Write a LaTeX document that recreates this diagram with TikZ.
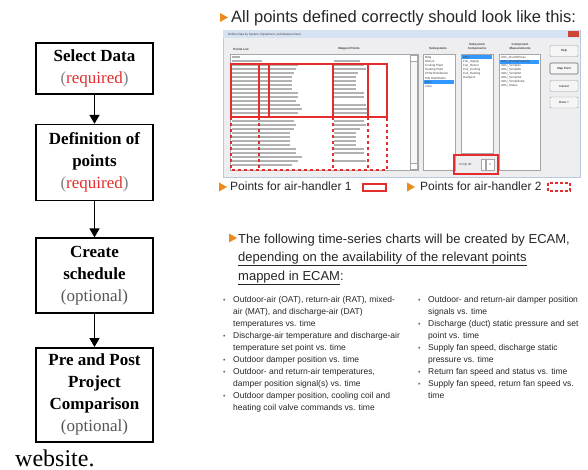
\documentclass[tikz,border=0pt]{standalone}
\usepackage{fontspec}
\setmainfont{Liberation Serif}
\newfontfamily\slidefont{Liberation Sans}
\usepackage{xcolor}
\usetikzlibrary{arrows.meta,positioning}

\definecolor{hiRed}{RGB}{228,45,45}
\definecolor{bulletOrange}{RGB}{232,140,30}
\definecolor{winGrey}{RGB}{238,238,240}
\definecolor{winFrame}{RGB}{185,200,222}
\definecolor{titleBlue}{RGB}{214,226,242}
\definecolor{closeRed}{RGB}{205,70,55}
\definecolor{selBlue}{RGB}{51,153,255}
\definecolor{parenGrey}{RGB}{130,130,130}
\definecolor{optGrey}{RGB}{85,85,85}

\newcommand\reqd{{\mdseries\textcolor{parenGrey}{(}\textcolor{hiRed}{required}\textcolor{parenGrey}{)}}}
\newcommand\optl{{\mdseries\textcolor{optGrey}{(optional)}}}
\newcommand\blt{\makebox[10pt][l]{\textcolor{black!60}{\scriptsize\textbullet}}}

\begin{document}
\begin{tikzpicture}[x=1pt,y=-1pt,
  box/.style={draw,line width=1.6pt,align=center,minimum width=117pt,inner sep=2pt,
    font=\fontsize{17}{22}\selectfont\bfseries},
  arr/.style={-{Triangle[length=9pt,width=10pt]},line width=1.6pt},
  tiny/.style={font=\slidefont\fontsize{3}{3.5}\selectfont,inner sep=0pt,text=black!75},
  hdr/.style={tiny,font=\slidefont\bfseries\fontsize{3}{3.5}\selectfont,align=center},
  lbox/.style={draw=black!35,fill=white,line width=0.4pt},
  btn/.style={draw=black!40,fill=black!4,rounded corners=1pt,minimum width=28pt,
    minimum height=11pt,inner sep=0pt,font=\slidefont\fontsize{3}{3.5}\selectfont},
  row/.style={black!30,line width=1.1pt},
  hand/.style={hiRed,line width=1.2pt},
  slide/.style={anchor=base west,inner sep=0pt,text=black!85},
  tribul/.pic={\fill[bulletOrange] (0,-4.5) -- (8,0) -- (0,4.5) -- cycle;}]
\useasboundingbox (0,0) rectangle (588,470);

% ECAM steps
\node[box,minimum height=51pt] (sel) at (94.5,68.5) {Select Data\\\reqd};
\node[box,minimum height=76pt,below=29pt of sel] (def) {Definition of\\points\\\reqd};
\node[box,minimum height=75pt,below=36pt of def] (sched) {Create\\schedule\\\optl};
\node[box,minimum height=94pt,below=33pt of sched] (cmp) {Pre and Post\\Project\\Comparison\\\optl};
\draw[arr] (sel)--(def);
\draw[arr] (def)--(sched);
\draw[arr] (sched)--(cmp);
\node[anchor=base west,inner sep=0pt,font=\fontsize{24}{28}\selectfont] (web) at (15,466) {website.};

% slide heading
\pic at (220,17.5) {tribul};
\node[slide,font=\slidefont\fontsize{16.5}{20}\selectfont] (head) at (231,23)
  {All points defined correctly should look like this:};

% dialog window
\draw[winFrame,fill=winGrey,line width=0.8pt] (223,30) rectangle (580,177);
\fill[titleBlue] (223.4,30.4) rectangle (579.6,38.5);
\node[tiny,anchor=west] (wtitle) at (228,34.5) {Define Data by System, Equipment, and Measurement};
\fill[closeRed] (568,31) rectangle (579,37.5);

\node[hdr] (plist) at (241,49) {Points List};
\node[hdr] (mpts) at (349,49) {Mapped Points};
\node[hdr] (subs) at (438,49) {Subsystems};
\node[hdr] (scomp) at (477,46.5) {Subsystem\\Components};
\node[hdr] (cmeas) at (520,46.5) {Component\\Measurements};

\draw[lbox] (230,54) rectangle (418,170);
\draw[lbox,fill=black!3] (410,55) rectangle (417,169);
\draw[lbox] (410,55) rectangle (417,61);
\draw[lbox] (410,163) rectangle (417,169);
\draw[lbox] (423,54) rectangle (455,170);
\draw[lbox] (461,54) rectangle (493,153);
\draw[lbox] (499,54) rectangle (540,170);

\foreach \a/\b [count=\i from 0] in {8/0,30/26,66/30,64/32,62/24,60/22,60/22,60/22,
    60/22,66/30,66/30,64/0,68/32,70/34,66/34,72/0,62/30,64/32,62/26,58/22,58/22,58/22,
    58/22,64/30,64/30,70/0,66/32,60/0}{
  \draw[row] (232,57+4*\i) -- ++(\a,0);
  \draw[row] (334,57+4*\i) -- ++(\b,0);
}

\fill[selBlue] (424,80.2) rectangle (454,84.2);
\foreach \s [count=\i from 0] in {Bldg,Motors,Cooling Plant,Heating Plant,
    CHW Distribution,HW Distribution,AHU,Zone}
  \node[tiny,anchor=west] (sub\i) at (425,57.5+4.1*\i) {\s};
\fill[selBlue] (462,55.5) rectangle (492,59.5);
\foreach \s [count=\i from 0] in {AHU,Fan\_Supply,Fan\_Return,Coil\_Cooling,
    Coil\_Heating,Dampers}
  \node[tiny,anchor=west] (comp\i) at (463,57.5+4.1*\i) {\s};
\fill[selBlue] (500,59.6) rectangle (539,63.6);
\foreach \s [count=\i from 0] in {AHU\_DuctStPress,AHU\_DuctStPressSp,AHU\_TempDis,
    AHU\_TempMix,AHU\_TempRet,AHU\_TempOut,AHU\_TempDisSp,AHU\_Status}
  \node[tiny,anchor=west] (meas\i) at (501,57.5+4.1*\i) {\s};

\node[btn] (help) at (564,51) {Help};
\node[btn,draw=black!60,line width=0.6pt] (mapb) at (564,68.5) {Map Point};
\node[btn] (cancel) at (564,86) {Cancel};
\node[btn] (done) at (564,102.5) {Done >};

% air-handler marks
\draw[hand] (231,64) rectangle (387,117);
\foreach \x in {259,269,333,368}
  \draw[hand] (\x,64) -- (\x,117);
\draw[hand,dashed] (231,117) rectangle (387,170);
\foreach \x in {259,333,368}
  \draw[hand,dashed] (\x,117) -- (\x,170);

\draw[hand] (454,155) rectangle (498,174);
\node[tiny,anchor=west] (cid) at (459,164.5) {Comp ID:};
\draw[lbox] (481,159) rectangle (485,170);
\draw[lbox] (486,159) rectangle (494,170);
\node[tiny] (cnum) at (490,164.5) {2};

% legend
\pic at (219,187) {tribul};
\node[slide,font=\slidefont\fontsize{12}{14}\selectfont] (leg1) at (230,191) {Points for air-handler 1};
\draw[hand] (363,184) rectangle (386,191);
\pic at (407,187) {tribul};
\node[slide,font=\slidefont\fontsize{12}{14}\selectfont] (leg2) at (420,191) {Points for air-handler 2};
\draw[hand,dash pattern=on 3pt off 2pt] (548,183) rectangle (570,191);

% charts text
\pic at (229,238) {tribul};
\node[slide,font=\slidefont\fontsize{13}{18.5}\selectfont] (ecam) at (238,243)
  {\begin{tabular}[t]{@{}l@{}}The following time-series charts will be created by ECAM,\\
   \underline{depending on the availability of the relevant points}\\
   \underline{mapped in ECAM}:\end{tabular}};

\node[slide,font=\slidefont\fontsize{8.5}{12.1}\selectfont] (charts1) at (223,302)
  {\begin{tabular}[t]{@{}l@{}l@{}}
   \blt & Outdoor-air (OAT), return-air (RAT), mixed-\\
        & air (MAT), and discharge-air (DAT)\\
        & temperatures vs. time\\
   \blt & Discharge-air temperature and discharge-air\\
        & temperature set point vs. time\\
   \blt & Outdoor damper position vs. time\\
   \blt & Outdoor- and return-air temperatures,\\
        & damper position signal(s) vs. time\\
   \blt & Outdoor damper position, cooling coil and\\
        & heating coil valve commands vs. time
   \end{tabular}};
\node[slide,font=\slidefont\fontsize{8.5}{12.1}\selectfont] (charts2) at (418,302)
  {\begin{tabular}[t]{@{}l@{}l@{}}
   \blt & Outdoor- and return-air damper position\\
        & signals vs. time\\
   \blt & Discharge (duct) static pressure and set\\
        & point vs. time\\
   \blt & Supply fan speed, discharge static\\
        & pressure vs. time\\
   \blt & Return fan speed and status vs. time\\
   \blt & Supply fan speed, return fan speed vs.\\
        & time
   \end{tabular}};
\end{tikzpicture}
\end{document}
